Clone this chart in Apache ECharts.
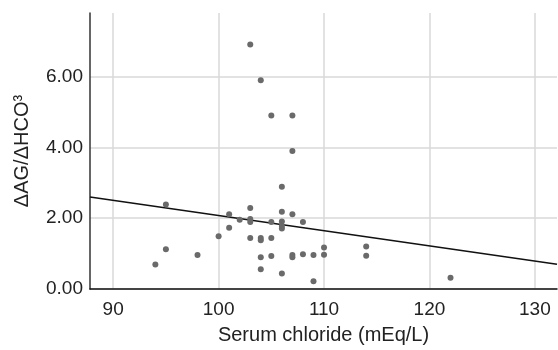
<!DOCTYPE html>
<html>
<head>
<meta charset="utf-8">
<script src="https://cdn.jsdelivr.net/npm/echarts@6/dist/echarts.min.js"></script>
<style>
  html, body { margin: 0; padding: 0; background: #fff; }
  #chart { width: 558px; height: 350px; }
</style>
</head>
<body>
<div id="chart"></div>
<script>
// serum chloride (mEq/L) vs ΔAG/ΔHCO3
const chlorideValues = [
  103, 104, 105, 107, 107, 106, 95, 103, 106, 107,
  101, 102, 103, 103, 105, 106, 108, 101, 106, 106,
  100, 103, 104, 104, 105, 95, 98, 104, 105, 107,
  107, 108, 109, 94, 104, 106, 109, 110, 110, 114,
  114, 122
]
const ratioValues = [
  6.91, 5.90, 4.90, 4.90, 3.90, 2.89, 2.39, 2.29, 2.18, 2.11,
  2.11, 1.96, 1.98, 1.89, 1.89, 1.91, 1.89, 1.73, 1.78, 1.71,
  1.49, 1.44, 1.44, 1.38, 1.44, 1.12, 0.96, 0.90, 0.93, 0.96,
  0.90, 0.98, 0.96, 0.69, 0.56, 0.44, 0.22, 1.17, 0.97, 1.20,
  0.94, 0.32
]
// fitted line, read at both ends of the x axis
const fitX = [87.8, 132.1]
const fitY = [2.60, 0.70]
const xTicks = [90, 100, 110, 120, 130]
const yTicks = [0, 2, 4, 6]

const points = chlorideValues.map((x, i) => [x, ratioValues[i]])
const fitLine = fitX.map((x, i) => [x, fitY[i]])

const chart = echarts.init(document.getElementById('chart'))
chart.setOption({
  animation: false,
  grid: { left: 90, right: 1, top: 13, bottom: 61 },
  xAxis: {
    type: 'value',
    min: 87.8,
    max: 132.1,
    name: 'Serum chloride (mEq/L)',
    nameLocation: 'middle',
    nameGap: 36,
    nameTextStyle: { fontFamily: 'Liberation Sans', fontSize: 20, color: '#222' },
    axisLine: { lineStyle: { color: '#111', width: 1.5 } },
    axisTick: { show: false, customValues: xTicks },
    axisLabel: {
      fontFamily: 'Liberation Sans', fontSize: 19, color: '#222', margin: 11,
      customValues: xTicks
    },
    splitLine: { show: true, lineStyle: { color: '#d8d8d8', width: 1.5 } }
  },
  yAxis: {
    type: 'value',
    min: 0,
    max: 7.8,
    name: 'ΔAG/ΔHCO³',
    nameLocation: 'middle',
    nameGap: 50,
    nameTextStyle: { fontFamily: 'Liberation Sans', fontSize: 20, color: '#222', padding: [0, 0, 8, 0] },
    axisLine: { show: true, lineStyle: { color: '#333', width: 1.5 } },
    axisTick: { show: false, customValues: yTicks },
    axisLabel: {
      fontFamily: 'Liberation Sans', fontSize: 19, color: '#222', margin: 7,
      customValues: yTicks,
      formatter: v => v.toFixed(2)
    },
    splitLine: { show: true, lineStyle: { color: '#d8d8d8', width: 1.5 } }
  },
  series: [
    {
      type: 'scatter',
      data: points,
      symbolSize: 6,
      itemStyle: { color: '#6a6a6a', opacity: 1 },
      z: 3
    },
    {
      type: 'line',
      data: fitLine,
      symbol: 'none',
      lineStyle: { color: '#111', width: 1.5 },
      z: 2
    }
  ]
})
</script>
</body>
</html>
